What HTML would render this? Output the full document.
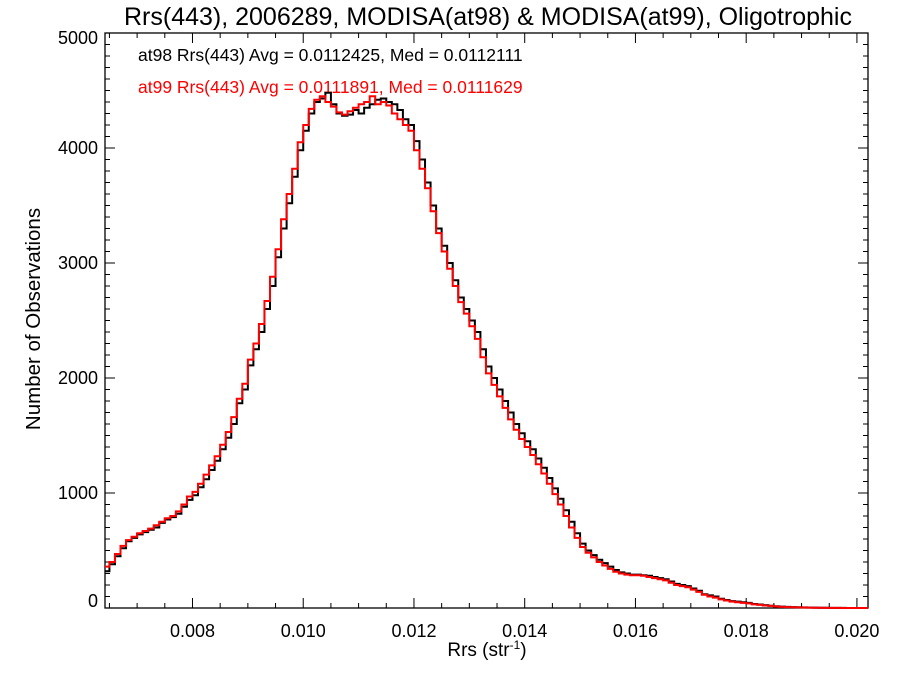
<!DOCTYPE html>
<html><head><meta charset="utf-8"><style>
html,body{margin:0;padding:0;background:#fff;}
svg text{font-family:"Liberation Sans",Arial,sans-serif;}
</style></head><body>
<svg id="chart" width="900" height="675" xmlns="http://www.w3.org/2000/svg">
<rect x="0" y="0" width="900" height="675" fill="#fff"/>
<text x="488" y="25" font-size="25" text-anchor="middle" textLength="728" lengthAdjust="spacingAndGlyphs">Rrs(443), 2006289, MODISA(at98) &amp; MODISA(at99), Oligotrophic</text>
<text x="138" y="61" font-size="17.5" fill="#000">at98 Rrs(443) Avg = 0.0112425, Med = 0.0112111</text>
<text x="138" y="93" font-size="17.5" fill="#ff0000">at99 Rrs(443) Avg = 0.0111891, Med = 0.0111629</text>
<text x="487" y="656" font-size="19" text-anchor="middle">Rrs (str<tspan font-size="12" dy="-7">-1</tspan><tspan dy="7">)</tspan></text>
<text x="40" y="319" font-size="20.5" text-anchor="middle" transform="rotate(-90 40 319)">Number of Observations</text>
<g id="axes"></g>
<g id="series"></g>
</svg>
<script>
const binStart = 0.0064;
const binWidth = 0.0001;
const at98Counts = [
320,380,450,520,580,610,
640,660,680,700,740,770,790,820,880,940,
980,1050,1120,1200,1280,1380,1480,1600,1780,1900,
2110,2250,2400,2600,2800,3050,3300,3520,3750,3980,
4150,4300,4400,4430,4480,4380,4300,4280,4290,4330,
4300,4350,4380,4420,4430,4400,4380,4330,4250,4200,
4060,3900,3700,3500,3300,3150,3000,2850,2700,2600,
2500,2400,2250,2100,2000,1900,1800,1700,1600,1520,
1450,1380,1300,1220,1130,1040,950,850,750,650,
560,500,460,420,390,360,330,310,300,290,
290,285,280,270,260,250,230,210,200,190,
170,150,120,110,100,80,70,60,55,50,
45,35,30,25,20,15,12,10,8,6,
5,4,3,2,2,1,1,1,0,0,0,0];
const at99Counts = [
360,400,470,540,590,620,
650,670,690,720,750,780,800,840,900,970,
1010,1080,1160,1240,1320,1420,1530,1660,1820,1950,
2160,2300,2470,2670,2880,3120,3380,3600,3820,4050,
4200,4340,4420,4450,4400,4360,4310,4290,4320,4350,
4380,4400,4450,4380,4400,4370,4300,4250,4200,4150,
3980,3820,3650,3450,3260,3100,2950,2800,2660,2560,
2450,2340,2180,2040,1940,1840,1740,1640,1550,1470,
1400,1330,1250,1170,1080,990,900,800,700,610,
530,480,440,400,370,340,315,300,290,285,
285,280,270,260,250,240,220,200,190,180,
160,140,115,100,90,75,65,55,50,45,
40,32,27,22,18,13,10,8,6,5,
4,3,2,2,1,1,1,0,0,0,0,0];
const xTickLabels = ["0.008","0.010","0.012","0.014","0.016","0.018","0.020"];
const yTickLabels = ["0","1000","2000","3000","4000","5000"];

const L=105,R=868,T=33,B=608;
const xMin=0.00642,xMax=0.0202,yMin=0,yMax=5000;
function sx(v){return L+(v-xMin)/(xMax-xMin)*(R-L);}
function sy(v){return B-(v-yMin)/(yMax-yMin)*(B-T);}
const NS="http://www.w3.org/2000/svg";
const axes=document.getElementById('axes');
const series=document.getElementById('series');
function mk(tag,attrs,parent){const e=document.createElementNS(NS,tag);for(const k in attrs)e.setAttribute(k,attrs[k]);parent.appendChild(e);return e;}

let frame=mk('rect',{x:L,y:T,width:R-L,height:B-T,fill:'none',stroke:'#000','stroke-width':1.3},axes);



let tp='';
for(let k=13;k<=40;k++){const v=k*0.0005;if(v<xMin||v>xMax)continue;const x=sx(v);const maj=(k%4===0);const len=maj?10:5;
tp+=`M${x},${B}v${-len}M${x},${T}v${len}`;}
for(let v=0;v<=5000;v+=100){const y=sy(v);const maj=(v%1000===0);const len=maj?10:5;
tp+=`M${L},${y}h${len}M${R},${y}h${-len}`;}
let ticks=mk('path',{d:tp,stroke:'#000','stroke-width':1,fill:'none'},axes);



xTickLabels.forEach(s=>{const t=mk('text',{x:sx(parseFloat(s)),y:B+29,'font-size':18,'text-anchor':'middle'},axes);t.textContent=s;

});
yTickLabels.forEach(s=>{const v=parseFloat(s);let y=sy(v)+6;if(v===0)y=sy(v)-1;if(v===5000)y=sy(v)+11;
const t=mk('text',{x:L-7,y:y,'font-size':18,'text-anchor':'end'},axes);t.textContent=s;

});

function stepPath(counts){let d='';counts.forEach((c,i)=>{const x0=sx(binStart+i*binWidth),x1=sx(binStart+(i+1)*binWidth);const y=sy(c);
if(i===0)d+=`M${Math.max(x0,L)},${y}`;else d+=`V${y}`;d+=`H${Math.min(x1,R)}`;});return d;}
let p1=mk('path',{d:stepPath(at98Counts),fill:'none',stroke:'#000','stroke-width':2},series);


let p2=mk('path',{d:stepPath(at99Counts),fill:'none',stroke:'#ff0000','stroke-width':2},series);


</script>
</body></html>
